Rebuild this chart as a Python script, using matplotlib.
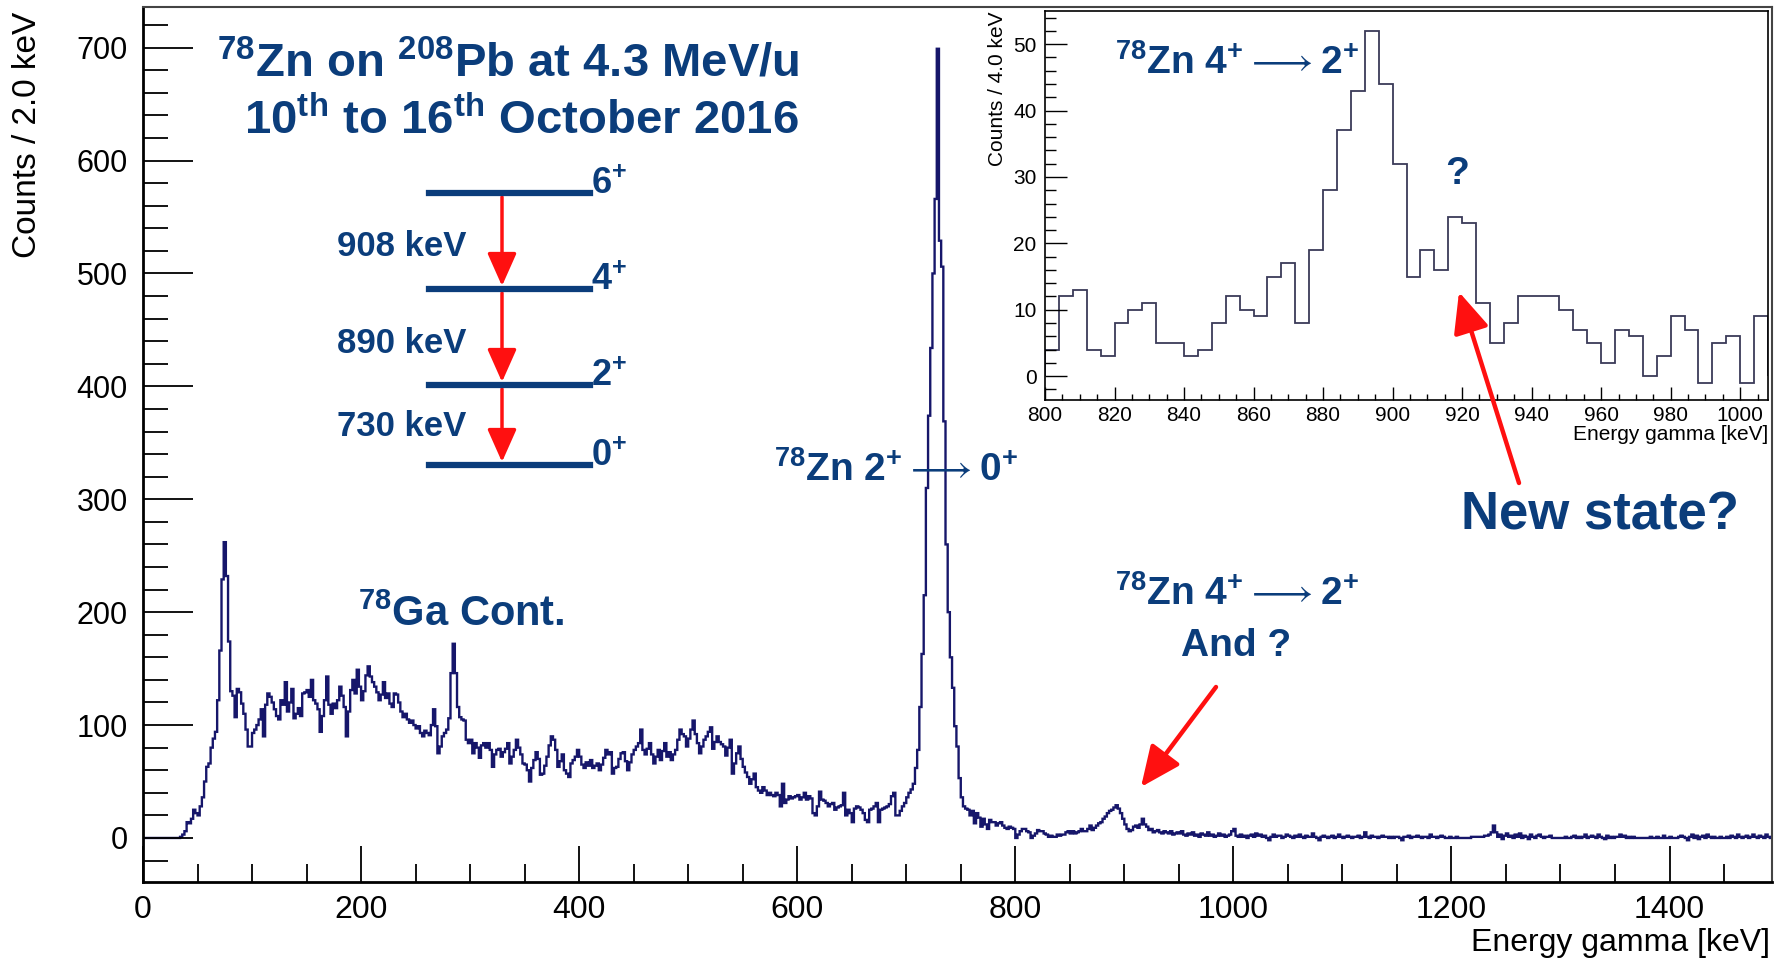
import numpy as np
import matplotlib
matplotlib.use("Agg")
import matplotlib.pyplot as plt
from matplotlib.lines import Line2D
from matplotlib.patches import FancyArrowPatch, ArrowStyle
from matplotlib.ticker import MultipleLocator

plt.rcParams['font.family'] = ['Liberation Sans', 'DejaVu Sans']
plt.rcParams['mathtext.default'] = 'regular'

W, H = 1783, 964
BLUE = '#0b3d7b'
HIST = '#16166a'
RED = '#ff1010'

# main spectrum, 2 keV bins starting at 0 keV (one row = 50 keV)
main_0_250 = [
    0, 0, 0, 0, 0, 0, 0, 0, 0, 0, 0, 0, 0, 0, 0, 0, 0, 1, 3, 6, 14, 13, 17, 25, 22,
    20, 28, 36, 50, 63, 66, 80, 88, 94, 122, 166, 229, 262, 232, 174, 130, 126, 107, 132, 129, 119, 110, 96, 81, 81,
    93, 96, 100, 105, 114, 90, 118, 128, 125, 120, 114, 108, 105, 122, 118, 138, 112, 120, 132, 106, 110, 115, 108, 128, 129,
    131, 125, 140, 122, 119, 114, 94, 108, 122, 143, 118, 110, 119, 115, 122, 134, 126, 116, 90, 112, 131, 140, 128, 149, 134,
    122, 130, 144, 152, 143, 138, 134, 129, 122, 127, 138, 124, 128, 119, 116, 128, 127, 120, 112, 107, 110, 105, 102, 104, 100,
]
main_250_500 = [
    97, 99, 93, 90, 95, 93, 91, 100, 114, 99, 75, 81, 90, 93, 96, 106, 146, 172, 146, 116, 107, 105, 104, 87, 84,
    87, 75, 84, 80, 71, 82, 84, 80, 84, 78, 63, 74, 78, 79, 72, 76, 79, 84, 66, 72, 78, 87, 80, 74, 66,
    65, 60, 50, 62, 69, 76, 70, 56, 57, 64, 72, 82, 90, 87, 78, 63, 68, 74, 60, 57, 54, 66, 69, 72, 78,
    72, 65, 62, 67, 64, 69, 62, 64, 66, 60, 65, 71, 78, 74, 76, 57, 62, 63, 70, 75, 76, 68, 60, 67, 74,
    78, 81, 84, 96, 78, 74, 79, 84, 74, 66, 72, 78, 69, 77, 84, 72, 76, 69, 74, 78, 87, 96, 92, 90, 81,
]
main_500_750 = [
    88, 96, 104, 92, 84, 75, 81, 87, 90, 94, 98, 79, 85, 90, 85, 83, 81, 73, 80, 87, 57, 66, 75, 81, 70,
    63, 58, 54, 48, 52, 57, 45, 42, 40, 45, 42, 38, 40, 38, 37, 40, 38, 28, 48, 31, 34, 37, 35, 36, 37,
    38, 34, 36, 40, 34, 37, 35, 22, 20, 28, 41, 34, 33, 31, 28, 30, 31, 25, 27, 28, 29, 40, 20, 25, 22,
    14, 26, 28, 27, 25, 22, 16, 14, 25, 26, 28, 31, 14, 25, 26, 27, 28, 30, 37, 40, 20, 20, 24, 28, 31,
    36, 40, 43, 48, 62, 78, 116, 163, 215, 310, 374, 434, 500, 566, 699, 529, 506, 369, 260, 200, 160, 133, 99, 81, 53,
]
main_750_1000 = [
    36, 28, 26, 25, 20, 24, 13, 22, 18, 10, 17, 12, 8, 16, 14, 14, 11, 13, 14, 11, 9, 8, 10, 9, 8,
    0, 3, 6, 8, 8, 6, 5, 0, 2, 4, 7, 6, 6, 4, 3, 1, 2, 1, 1, 3, 2, 3, 3, 5, 6,
    4, 6, 4, 5, 6, 8, 6, 6, 8, 11, 7, 9, 11, 13, 14, 17, 19, 22, 24, 25, 27, 29, 26, 22, 17,
    12, 8, 6, 7, 10, 11, 9, 12, 17, 12, 10, 7, 8, 5, 6, 7, 5, 4, 6, 5, 4, 6, 3, 4, 5,
    4, 6, 3, 2, 4, 3, 5, 2, 3, 1, 4, 3, 2, 5, 2, 3, 1, 2, 4, 2, 3, 1, 2, 3, 6,
]
main_1000_1250 = [
    8, 2, 1, 3, 1, 2, 0, 2, 3, 1, 4, 2, 3, 1, 2, 0, -2, 1, 3, 1, 2, 2, 0, 1, 3,
    2, 1, 0, 2, 1, 3, 1, 0, 2, 1, 1, 4, 1, 0, -2, 1, 2, 1, 0, 1, 2, 0, 1, 3, 1,
    0, 1, 2, 1, 0, 1, 1, 2, 0, 1, 5, 1, 0, 2, 1, 1, 0, 1, 2, 1, 1, 0, 1, 0, 1,
    1, 0, -2, 1, 1, 2, 0, 1, 1, 2, 1, 0, 1, 1, 0, 3, 1, 1, 0, 1, 2, 1, 0, 0, 1,
    0, 0, 1, 0, 0, 0, 0, 0, 0, 1, 1, 1, 1, 1, 1, 2, 2, 3, 5, 11, 5, 1, 3, -1, 2,
]
main_1250_1494 = [
    4, 1, 2, 0, 3, 1, 4, 0, 2, 1, -1, 3, 1, 0, 2, 3, 1, 0, 1, 1, 2, 0, 0, 0, 0,
    0, 0, 1, 0, 0, 1, 2, 0, 1, 0, 1, 3, 0, 1, 2, 1, 0, 3, 1, 0, -1, 2, 0, 1, 0,
    1, 1, 3, 1, 2, 0, 1, 0, 1, 0, 0, 0, 0, 0, 0, 0, 1, 0, 0, 1, 0, 0, 2, 0, 0,
    1, 0, 0, 0, 1, 2, 1, 0, -2, 1, 3, 0, 2, -1, 1, 2, 0, 3, 1, 0, 1, 0, 0, 1, 0,
    0, 1, 0, 2, 1, 0, 3, 1, 0, 1, 2, 0, 1, 3, 1, 0, 2, 1, 0, 3, 1, 0,
]
main_counts = np.array(main_0_250 + main_250_500 + main_500_750
                       + main_750_1000 + main_1000_1250 + main_1250_1494)
main_edges = np.arange(len(main_counts) + 1) * 2.0

# inset, 4 keV bins starting at 800 keV
inset_counts = [4, 12, 13, 4, 3, 8, 10, 11, 5, 5, 3, 4, 8, 12, 10, 9, 15, 17, 8, 19,
                28, 37, 43, 52, 44, 32, 15, 19, 16, 24, 23, 11, 5, 8, 12, 12, 12, 10, 7, 5,
                2, 7, 6, 0, 3, 9, 7, -1, 5, 6, -1, 9]
inset_edges = 800 + np.arange(len(inset_counts) + 1) * 4.0

# level scheme of 78Zn
level_spins = ['0', '2', '4', '6']
gamma_labels = ['730 keV', '890 keV', '908 keV']


def fx(x):
    return x / W


def fy(y):
    return 1 - y / H


fig = plt.figure(figsize=(W / 100, H / 100), dpi=100)

# ---- main spectrum ----
ax = fig.add_axes([fx(143), fy(882), (1772 - 143) / W, (882 - 7) / H])
ax.stairs(main_counts, main_edges, color=HIST, lw=1.7)
ax.set_xlim(0, 1494)
ax.set_ylim(-39, 736)
ax.xaxis.set_major_locator(MultipleLocator(200))
ax.xaxis.set_minor_locator(MultipleLocator(50))
ax.yaxis.set_major_locator(MultipleLocator(100))
ax.yaxis.set_minor_locator(MultipleLocator(20))
ax.tick_params(which='both', direction='in', width=1.3, color='k')
ax.tick_params(axis='y', which='major', length=36, labelsize=22, pad=11)
ax.tick_params(axis='y', which='minor', length=18)
ax.tick_params(axis='x', which='major', length=26, labelsize=23, pad=9)
ax.tick_params(axis='x', which='minor', length=13)
for s in ['left', 'bottom']:
    ax.spines[s].set_linewidth(2.0)
for s in ['top', 'right']:
    ax.spines[s].set_linewidth(1.5)
    ax.spines[s].set_color('#444444')

fig.text(fx(28), fy(12), 'Counts / 2.0 keV', rotation=90, ha='center', va='top', fontsize=24)
fig.text(fx(1770), fy(958), 'Energy gamma [keV]', ha='right', va='bottom', fontsize=23)

# ---- inset ----
ins = fig.add_axes([fx(1045), fy(400), (1768 - 1045) / W, (400 - 11) / H])
ins.stairs(inset_counts, inset_edges, color='#3a3a58', lw=1.3)
ins.set_xlim(800, 1008)
ins.set_ylim(-3.6, 55)
ins.xaxis.set_major_locator(MultipleLocator(20))
ins.xaxis.set_minor_locator(MultipleLocator(5))
ins.yaxis.set_major_locator(MultipleLocator(10))
ins.yaxis.set_minor_locator(MultipleLocator(2))
ins.tick_params(which='both', direction='in', width=1.0, color='k', labelsize=15)
ins.tick_params(axis='y', which='major', length=16, pad=6)
ins.tick_params(axis='y', which='minor', length=8)
ins.tick_params(axis='x', which='major', length=9.5, pad=4)
ins.tick_params(axis='x', which='minor', length=4.5)
for s in ins.spines.values():
    s.set_linewidth(1.2)

fig.text(fx(998), fy(11), 'Counts / 4.0 keV', rotation=90, ha='center', va='top', fontsize=15)
fig.text(fx(1768), fy(444), 'Energy gamma [keV]', ha='right', va='bottom', fontsize=15)

# ---- annotation texts ----
txt = dict(color=BLUE, fontweight='bold', va='baseline')
arrow = r'$\longrightarrow$'
fig.text(fx(799), fy(77), r'$^{78}$Zn on $^{208}$Pb at 4.3 MeV/u', ha='right', fontsize=34, **txt)
fig.text(fx(799), fy(134), r'10$^{th}$ to 16$^{th}$ October 2016', ha='right', fontsize=34, **txt)
fig.text(fx(358), fy(626), r'$^{78}$Ga Cont.', ha='left', fontsize=30, **txt)
fig.text(fx(774), fy(481), r'$^{78}$Zn 2$^{+}$' + arrow + r'0$^{+}$', ha='left', fontsize=28, **txt)
fig.text(fx(1115), fy(605), r'$^{78}$Zn 4$^{+}$' + arrow + r'2$^{+}$', ha='left', fontsize=28, **txt)
fig.text(fx(1236), fy(656), 'And ?', ha='center', fontsize=28, **txt)
fig.text(fx(1115), fy(74), r'$^{78}$Zn 4$^{+}$' + arrow + r'2$^{+}$', ha='left', fontsize=28, **txt)
fig.text(fx(1457), fy(184), '?', ha='center', fontsize=28, **txt)
fig.text(fx(1461), fy(530), 'New state?', ha='left', fontsize=38, **txt)

# ---- level scheme ----
level_y = [465, 385, 289, 193]
for spin, y in zip(level_spins, level_y):
    fig.add_artist(Line2D([fx(429), fx(590)], [fy(y), fy(y)], color=BLUE, lw=4.5,
                          transform=fig.transFigure))
    fig.text(fx(591), fy(y + 1), spin + r'$^{+}$', ha='left', fontsize=26, **txt)

label_y = [436, 353, 256]
head = ArrowStyle('-|>', head_length=0.45, head_width=0.2)
for i, lab in enumerate(gamma_labels):
    fig.text(fx(337), fy(label_y[i]), lab, ha='left', fontsize=25, **txt)
    top, bot = level_y[i + 1], level_y[i]
    fig.add_artist(FancyArrowPatch((fx(502), fy(top + 4)), (fx(502), fy(bot - 3)),
                                   transform=fig.transFigure, arrowstyle=head,
                                   mutation_scale=45, color=RED, lw=2.5,
                                   shrinkA=0, shrinkB=0))

# ---- red pointer arrows ----
for tail, tip in [((1519, 483), (1459, 292)), ((1216, 687), (1141, 787))]:
    fig.add_artist(FancyArrowPatch((fx(tail[0]), fy(tail[1])), (fx(tip[0]), fy(tip[1])),
                                   transform=fig.transFigure, arrowstyle=head,
                                   mutation_scale=55, color=RED, lw=3.2,
                                   shrinkA=0, shrinkB=0))

fig.savefig('out.png', dpi=100)
